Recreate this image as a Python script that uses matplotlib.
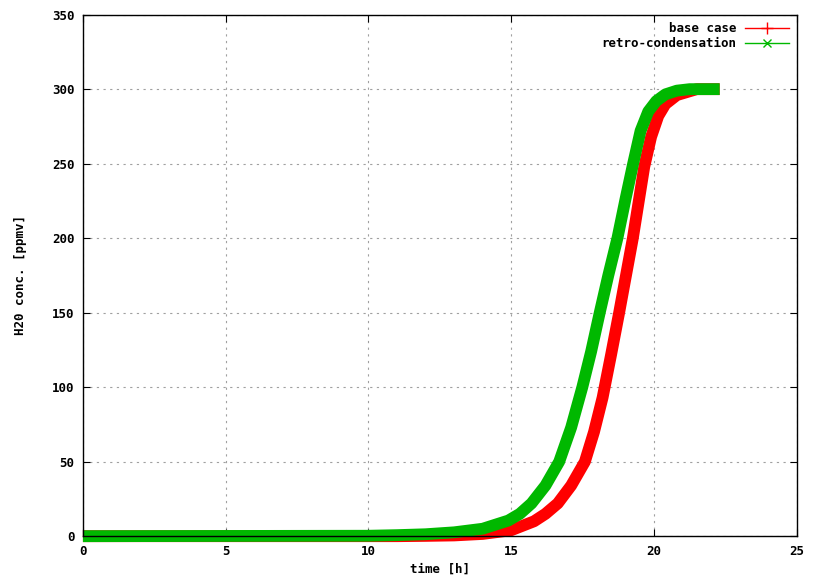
import matplotlib
matplotlib.use("Agg")
import matplotlib.pyplot as plt
from matplotlib.lines import Line2D

# values
t_base = [0, 11, 12, 13, 14, 15, 15.8, 16.2, 16.63, 17.1, 17.58, 17.9,
          18.2, 18.5, 18.78, 19.02, 19.26, 19.46, 19.66, 19.9, 20.15,
          20.4, 20.8, 21.5, 22.3]
c_base = [0, 0, 0.2, 0.5, 1.5, 4, 10, 15, 22, 34, 50, 70,
          93, 122, 150, 175, 200, 224, 248, 268, 282,
          290, 296, 300, 300]

t_retro = [0, 10, 11, 12, 13, 14, 14.9, 15.3, 15.71, 16.2, 16.68, 17.1,
           17.49, 17.8, 18.1, 18.4, 18.72, 19.0, 19.27, 19.53, 19.8, 20.08,
           20.4, 20.8, 21.25, 22.3]
c_retro = [0, 0.3, 0.7, 1.3, 2.6, 5, 10.5, 15, 22, 34, 50, 73,
           100, 124, 150, 175, 200, 226, 250, 272, 285, 292,
           296.5, 299, 300, 300]

xticks = [0, 5, 10, 15, 20, 25]
yticks = [0, 50, 100, 150, 200, 250, 300, 350]

red = "#ff0000"
green = "#00b800"
fnt = {"family": "DejaVu Sans Mono", "weight": "bold", "size": 9}

fig = plt.figure(figsize=(8.13, 5.86), dpi=100)
ax = fig.add_axes([0.102, 0.085, 0.878, 0.89])

ax.plot(t_base, c_base, color=red, lw=8.5, solid_capstyle="butt",
        solid_joinstyle="round", clip_on=False)
ax.plot(t_retro, c_retro, color=green, lw=8.5, solid_capstyle="butt",
        solid_joinstyle="round", clip_on=False)

ax.set_xlim(0, 25)
ax.set_ylim(0, 350)
ax.set_xticks(xticks)
ax.set_yticks(yticks)
ax.set_xticklabels([str(v) for v in xticks], fontdict=fnt)
ax.set_yticklabels([str(v) for v in yticks], fontdict=fnt)
ax.tick_params(direction="in", top=True, right=True, length=5, width=0.8, pad=6)
ax.grid(True, color="#a0a0a0", linestyle=(0, (2, 4)), lw=0.8)
for s in ax.spines.values():
    s.set_linewidth(1.0)
    s.set_zorder(5)

ax.set_xlabel("time [h]", fontdict=fnt, labelpad=4)
ax.set_ylabel("H20 conc. [ppmv]", fontdict=fnt, labelpad=18)

handles = [Line2D([], [], color=red, lw=1, marker="+", markersize=8),
           Line2D([], [], color=green, lw=1, marker="x", markersize=6)]
ax.legend(handles, ["base case", "retro-condensation"], loc="upper right",
          frameon=False, markerfirst=False, prop=fnt, handlelength=3.5,
          handletextpad=0.7, labelspacing=0.15, borderaxespad=0.3,
          borderpad=0.3)

fig.savefig("out.png", dpi=100)
